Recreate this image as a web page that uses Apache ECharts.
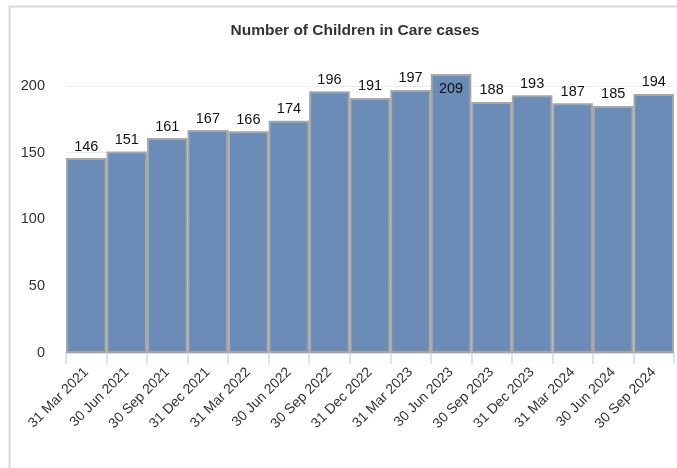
<!DOCTYPE html>
<html>
<head>
<meta charset="utf-8">
<script src="https://cdn.jsdelivr.net/npm/echarts@6/dist/echarts.min.js"></script>
<style>html,body{margin:0;padding:0;background:#fff}#main{width:677px;height:468px}</style>
</head>
<body>
<div id="main"></div>
<script>
const categories = ['31 Mar 2021','30 Jun 2021','30 Sep 2021','31 Dec 2021','31 Mar 2022','30 Jun 2022','30 Sep 2022','31 Dec 2022','31 Mar 2023','30 Jun 2023','30 Sep 2023','31 Dec 2023','31 Mar 2024','30 Jun 2024','30 Sep 2024'];
const values = [146,151,161,167,166,174,196,191,197,209,188,193,187,185,194];
const insideLabelIndex = 9;

const chart = echarts.init(document.getElementById('main'), null, {renderer:'canvas'});
const font = '"Liberation Sans", Arial, sans-serif';
const data = values.map((v,i)=> i===insideLabelIndex ? {value:v,label:{position:'insideTop',distance:8}} : v);
chart.setOption({
  animation:false,
  backgroundColor:'#fff',
  title:{text:'Number of Children in Care cases',left:350,top:18,textAlign:'center',
    textStyle:{fontFamily:font,fontSize:15.5,fontWeight:'bold',color:'#333'}},
  graphic:[{type:'rect',shape:{x:9.5,y:6.5,width:720,height:520},
    style:{fill:'none',stroke:'#d9d9d9',lineWidth:2},silent:true,z:-1}],
  grid:{left:66,right:3,top:72.6,bottom:115},
  xAxis:{type:'category',data:categories,
    axisLine:{lineStyle:{color:'#d0dbec',width:1}},
    axisTick:{show:true,length:11,lineStyle:{color:'#d0dbec',width:1.5}},
    axisLabel:{rotate:45,margin:17,fontFamily:font,fontSize:14,color:'#333',interval:0}},
  yAxis:{type:'value',min:0,max:210,interval:50,
    axisLine:{show:false},axisTick:{show:false},
    axisLabel:{showMaxLabel:false,margin:21,fontFamily:font,fontSize:14.5,color:'#333'},
    splitLine:{lineStyle:{color:['#ececec','#ececec','#ececec','#ececec','#ececec','rgba(0,0,0,0)'],width:1}}},
  series:[{type:'bar',data:data,barCategoryGap:'0%',
    itemStyle:{color:'#6a8cb6',borderColor:'#a6a6a6',borderWidth:2},
    label:{show:true,position:'top',distance:4,fontFamily:font,fontSize:14.5,color:'#111'}}]
});
</script>
</body>
</html>
